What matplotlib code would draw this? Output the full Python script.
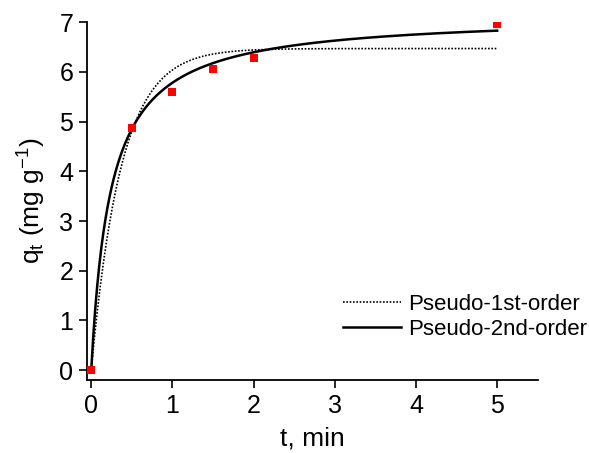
import numpy as np
import matplotlib.pyplot as plt

plt.rcParams['font.family'] = ['Liberation Sans', 'DejaVu Sans']
plt.rcParams['mathtext.fontset'] = 'custom'
plt.rcParams['mathtext.rm'] = 'Liberation Sans'
plt.rcParams['mathtext.it'] = 'Liberation Sans'

# experimental points
t_exp = [0, 0.5, 1.0, 1.5, 2.0, 5.0]
q_exp = [0, 4.88, 5.60, 6.06, 6.27, 6.96]

# fitted model parameters
qe1, k1 = 6.47, 2.71    # pseudo-1st-order
qe2, k2 = 7.154, 0.589  # pseudo-2nd-order

t = np.linspace(0, 5, 400)
q1 = qe1 * (1 - np.exp(-k1 * t))
q2 = qe2**2 * k2 * t / (1 + qe2 * k2 * t)

fig = plt.figure(figsize=(5.89, 4.53), dpi=100)
ax = fig.add_axes([0.148, 0.161, 0.765, 0.790])

ax.plot(t, q1, color='black', linestyle=(0, (1, 1)), linewidth=1.2, label='Pseudo-1st-order')
ax.plot(t, q2, color='black', linestyle='-', linewidth=1.8, label='Pseudo-2nd-order')
ax.plot(t_exp, q_exp, 's', color='red', markersize=5.5, markeredgewidth=0, zorder=5)

ax.set_xlim(-0.05, 5.5)
ax.set_ylim(-0.2, 7.0)
ax.set_xticks([0, 1, 2, 3, 4, 5])
ax.set_yticks([0, 1, 2, 3, 4, 5, 6, 7])
ax.spines['top'].set_visible(False)
ax.spines['right'].set_visible(False)
ax.spines['left'].set_linewidth(1.3)
ax.spines['bottom'].set_linewidth(1.3)
ax.tick_params(direction='out', length=6, width=1.2, labelsize=18, pad=4)

ax.set_xlabel('t, min', fontsize=19, labelpad=6)
ax.set_ylabel(r'$\mathregular{q_t\ (mg\ g^{-1})}$', fontsize=19, labelpad=8)

ax.legend(loc='lower right', bbox_to_anchor=(1.153, 0.056), frameon=False,
          fontsize=16, handlelength=2.6, handletextpad=0.3, labelspacing=0.2)

fig.savefig('out.png', dpi=100)
